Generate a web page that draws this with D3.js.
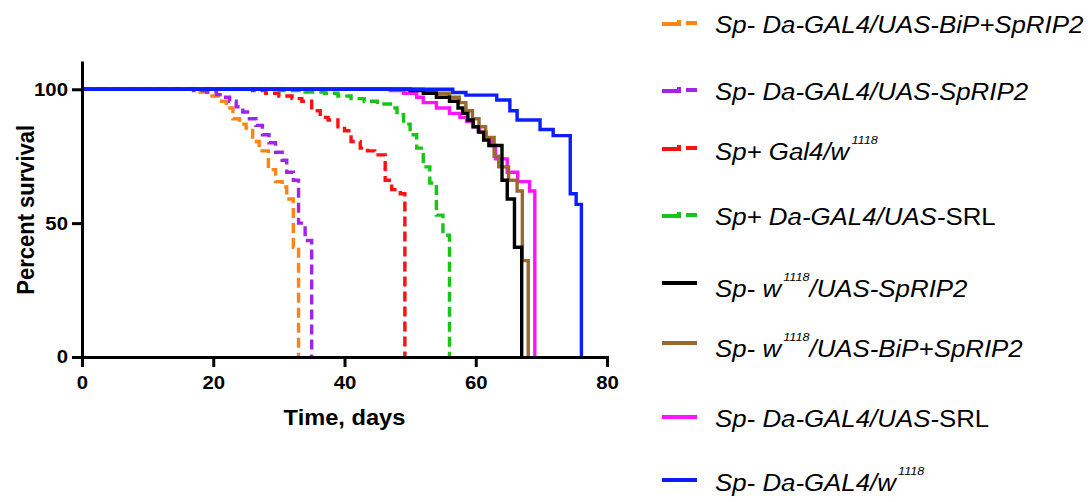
<!DOCTYPE html>
<html>
<head>
<meta charset="utf-8">
<script src="https://cdn.jsdelivr.net/npm/d3@7"></script>
<style>
  body { margin: 0; background: #fff; }
  svg { display: block; }
</style>
</head>
<body>
<svg id="chart" width="1088" height="502"></svg>
<script>
// Kaplan–Meier survival: day of each step and percent surviving after it
const orangeDays = [0, 18, 19.5, 21, 22, 23, 24, 25, 26, 27, 28.4, 29.5, 30.5, 31.2, 32.2, 33];
const orangeSurv = [100, 99, 97.5, 95.5, 93, 89, 87, 85.5, 80.5, 77, 70, 65.5, 63.5, 59, 41, 0];

const purpleDays = [0, 17, 19, 20.5, 21.5, 22.5, 23.5, 24.5, 25.5, 26.5, 27.5, 28.5, 29.5, 30.5, 31.2, 32.2, 33, 34, 35];
const purpleSurv = [100, 99.5, 99, 98, 97, 95.5, 93.5, 91.5, 89, 86.5, 83, 80, 76.5, 73.5, 69, 66, 50, 43.5, 0];

const redDays = [0, 26, 28, 30, 32, 33.5, 35, 36.3, 37.5, 39, 40, 41, 42.4, 43.5, 44.6, 46.2, 47.2, 48.5, 49.2];
const redSurv = [100, 99.5, 98.5, 97.5, 96.5, 95.5, 92, 89.5, 88.5, 86, 84.5, 80.5, 78, 77, 75.5, 66, 62.5, 61, 0];

const greenDays = [0, 30, 34, 37, 39, 41, 43, 45, 47, 48, 49, 50, 51, 52, 53, 54, 55, 56];
const greenSurv = [100, 99.5, 99, 98.5, 97.5, 96.5, 95.5, 94.5, 93, 90.5, 87, 83, 78, 71, 65, 53, 45.5, 0];

const blackDays = [0, 50, 52, 54, 56, 57.3, 58, 58.8, 59.6, 60.4, 61.2, 62, 64, 64.8, 65.9, 67];
const blackSurv = [100, 99.5, 98.5, 97, 95.5, 93, 91, 88.5, 86, 84, 81, 79, 66, 59, 41, 0];

const brownDays = [0, 52, 54, 56, 57.5, 58.5, 59.5, 60.5, 61.5, 62.8, 63.5, 65, 66.3, 67.1, 68];
const brownSurv = [100, 99.5, 98.5, 97, 95, 92, 89, 86, 82, 75, 71, 66, 62, 36, 0];

const magentaDays = [0, 47, 49, 51, 52, 54, 56, 57.6, 58.6, 59.6, 60.6, 61.6, 62.4, 63, 64.8, 66.4, 68.2, 69];
const magentaSurv = [100, 99.5, 98.5, 97, 95, 93, 91, 89.5, 88, 86, 84, 81.5, 79, 74, 69, 65.5, 62, 0];

const blueDays = [0, 56.5, 58.5, 63.2, 65.2, 66.3, 69.8, 71.8, 74.4, 75.3, 76.1];
const blueSurv = [100, 98.8, 97.8, 96, 92, 88.5, 85, 82.7, 61, 57, 0];

// Legend text: segments of [text, kind] — i = italic, n = upright, s = superscript
const legendLabels = [
  [["Sp- Da-GAL4/UAS-BiP+SpRIP2", "i"]],
  [["Sp- Da-GAL4/UAS-SpRIP2", "i"]],
  [["Sp+ Gal4/w", "i"], ["1118", "s"]],
  [["Sp+ Da-GAL4/UAS-", "i"], ["SRL", "n"]],
  [["Sp- w", "i"], ["1118", "s"], ["/UAS-SpRIP2", "i"]],
  [["Sp- w", "i"], ["1118", "s"], ["/UAS-BiP+SpRIP2", "i"]],
  [["Sp- Da-GAL4/UAS-", "i"], ["SRL", "n"]],
  [["Sp- Da-GAL4/w", "i"], ["1118", "s"]]
];

const xTicks = [0, 20, 40, 60, 80];
const yTicks = [0, 50, 100];
const xTitle = "Time, days";
const yTitle = "Percent survival";

// ---- styling ----
const seriesData = [
  [orangeDays, orangeSurv], [purpleDays, purpleSurv], [redDays, redSurv], [greenDays, greenSurv],
  [blackDays, blackSurv], [brownDays, brownSurv], [magentaDays, magentaSurv], [blueDays, blueSurv]
];
const colors = ["#ff8416", "#a024ee", "#ff1010", "#16c516", "#000000", "#9a6a2c", "#ff14ff", "#0a1eff"];
const dashed = [true, true, true, true, false, false, false, false];
const drawOrder = [0, 1, 2, 3, 6, 5, 4, 7];

const SX = 1.1;              // horizontal stretch applied to all lettering
const FONT = "'Liberation Sans', Arial, Helvetica, sans-serif";

const svg = d3.select("#chart");

const x = d3.scaleLinear().domain([0, 80]).range([82, 607]);
const y = d3.scaleLinear().domain([0, 110]).range([357, 62.5]);

// survival curves
const line = d3.line()
  .x(d => x(d[0]))
  .y(d => y(d[1]))
  .curve(d3.curveStepAfter);

const curves = svg.append("g");
drawOrder.forEach(i => {
  const [days, surv] = seriesData[i];
  const pts = days.map((d, k) => [d, surv[k]]);
  curves.append("path")
    .attr("d", line(pts))
    .attr("fill", "none")
    .attr("stroke", colors[i])
    .attr("stroke-width", 3.4)
    .attr("stroke-linejoin", "miter")
    .attr("stroke-dasharray", dashed[i] ? "10,5" : null);
});

// axes
function styleAxis(g) {
  g.select(".domain").attr("stroke", "#000").attr("stroke-width", 3).attr("stroke-linecap", "square");
  g.selectAll(".tick line").attr("stroke", "#000").attr("stroke-width", 3);
  g.selectAll(".tick text")
    .attr("fill", "#000")
    .style("font-family", FONT)
    .style("font-weight", "bold")
    .style("font-size", "18.5px");
}

const xAxisG = svg.append("g")
  .attr("transform", `translate(0,${y(0)})`)
  .call(d3.axisBottom(x).tickValues(xTicks).tickSize(10).tickSizeOuter(0).tickPadding(9).tickFormat(d3.format("d")));
styleAxis(xAxisG);
xAxisG.selectAll(".tick text").each(function () {
  const t = d3.select(this);
  const ty = +t.attr("y");
  t.attr("y", null).attr("transform", `translate(0,${ty}) scale(${SX},1)`);
});

const yAxisG = svg.append("g")
  .attr("transform", `translate(${x(0)},0)`)
  .call(d3.axisLeft(y).tickValues(yTicks).tickSize(10).tickSizeOuter(0).tickPadding(4).tickFormat(d3.format("d")));
styleAxis(yAxisG);
yAxisG.selectAll(".tick text").each(function () {
  const t = d3.select(this);
  const tx = +t.attr("x");
  t.attr("x", null).attr("transform", `translate(${tx},0) scale(${SX},1)`);
});

// axis titles
svg.append("text")
  .attr("transform", `translate(${(x(0) + x(80)) / 2},425) scale(${SX},1)`)
  .attr("text-anchor", "middle")
  .style("font-family", FONT).style("font-weight", "bold").style("font-size", "21.5px")
  .text(xTitle);

svg.append("text")
  .attr("transform", `translate(34,${(y(0) + y(110)) / 2}) scale(${SX},1) rotate(-90)`)
  .attr("text-anchor", "middle")
  .style("font-family", FONT).style("font-weight", "bold").style("font-size", "22px")
  .text(yTitle);

// legend
const legendSymbolY = [23, 90, 148, 215, 283, 343, 417, 480];
const legendBaseY = [33, 100, 160, 225, 297, 357, 427, 491];
const legend = svg.append("g");

legendLabels.forEach((segs, i) => {
  const sy = legendSymbolY[i];
  if (dashed[i]) {
    legend.append("path")
      .attr("d", `M662,${sy + 1}H679V${sy - 1}H681M686,${sy}H697`)
      .attr("fill", "none").attr("stroke", colors[i]).attr("stroke-width", 4);
  } else {
    legend.append("line")
      .attr("x1", 662).attr("x2", 697).attr("y1", sy).attr("y2", sy)
      .attr("stroke", colors[i]).attr("stroke-width", 4);
  }

  const txt = legend.append("text")
    .attr("transform", `translate(715,${legendBaseY[i]}) scale(${SX},1)`)
    .style("font-family", FONT).style("font-size", "23.5px").attr("fill", "#000");

  let raised = false;
  segs.forEach(([t, kind]) => {
    const ts = txt.append("tspan").text(t);
    if (kind === "s") {
      ts.style("font-style", "italic").style("font-size", "11.5px").attr("dy", -16).attr("dx", 2);
      raised = true;
    } else {
      ts.style("font-style", kind === "i" ? "italic" : "normal");
      if (raised) { ts.attr("dy", 16); raised = false; }
    }
  });
});
</script>
</body>
</html>
